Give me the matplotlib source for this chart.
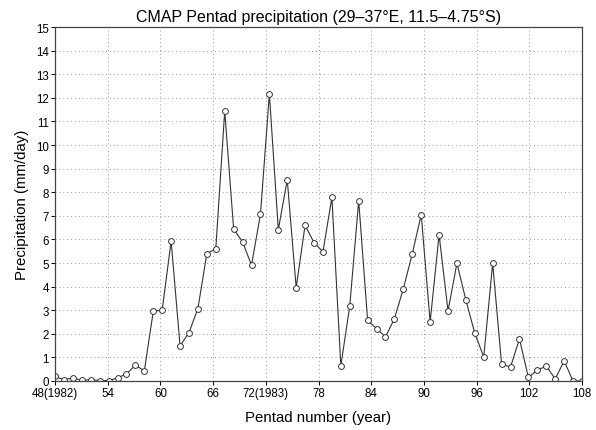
import numpy as np
import matplotlib
matplotlib.use("Agg")
import matplotlib.pyplot as plt

plt.rcParams['font.family'] = ['Liberation Sans', 'DejaVu Sans']

# CMAP pentad precipitation (mm/day) (60 points)
precip = [0.20, 0.05, 0.13, 0.03, 0.06, 0.02, 0.02, 0.13, 0.30, 0.67,
          0.43, 2.95, 3.00, 5.93, 1.49, 2.05, 3.07, 5.40, 5.60, 11.44,
          6.44, 5.89, 4.91, 7.06, 12.16, 6.41, 8.53, 3.96, 6.60, 5.86,
          5.48, 7.78, 0.64, 3.18, 7.64, 2.57, 2.22, 1.87, 2.64, 3.91,
          5.39, 7.05, 2.50, 6.20, 2.97, 4.99, 3.43, 2.02, 1.02, 4.99,
          0.70, 0.60, 1.78, 0.15, 0.46, 0.63, 0.09, 0.85, 0.0, 0.0]
# points are spread evenly over the pentad axis
pentad = np.linspace(48, 108, len(precip))

xticks = [48, 54, 60, 66, 72, 78, 84, 90, 96, 102, 108]
xlabels = ['48(1982)', '54', '60', '66', '72(1983)', '78', '84', '90',
           '96', '102', '108']

fig = plt.figure(figsize=(5.96, 4.31), dpi=100)
ax = fig.add_axes([0.0923, 0.1137, 0.8842, 0.8213])

ax.plot(pentad, precip, '-', color='#333333', lw=0.8,
        marker='o', ms=4.2, mfc='white', mec='#333333', mew=0.7)

ax.set_xlim(48, 108)
ax.set_ylim(0, 15)
ax.set_xticks(xticks)
ax.set_xticklabels(xlabels)
ax.set_yticks(range(0, 16))
ax.tick_params(labelsize=8.3, length=3, width=0.7, pad=1.5)
ax.grid(True, linestyle=(0, (1, 3)), color='#999999', lw=0.7)
for s in ax.spines.values():
    s.set_linewidth(0.9)
    s.set_color('#444444')

ax.set_title('CMAP Pentad precipitation (29\u201337\u00b0E, 11.5\u20134.75\u00b0S)',
             fontsize=11.5, pad=4)
ax.set_xlabel('Pentad number (year)', fontsize=10.8, labelpad=8)
ax.set_ylabel('Precipitation (mm/day)', fontsize=10.8, labelpad=5)

fig.savefig('out.png', dpi=100)
